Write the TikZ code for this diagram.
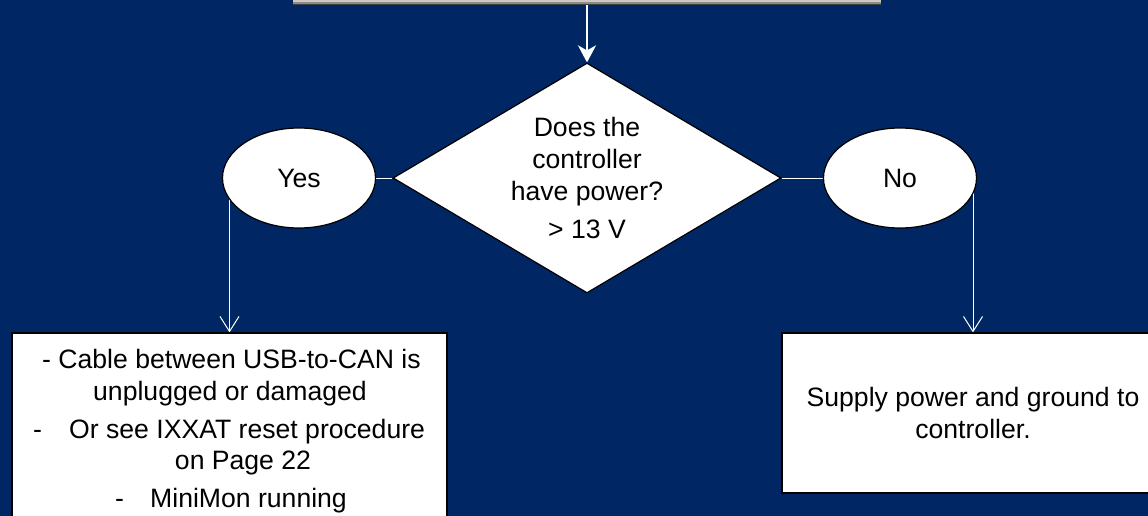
\documentclass[tikz,border=0pt]{standalone}
\usepackage{fontspec}
\setmainfont{Liberation Sans}
\usetikzlibrary{shapes.geometric,arrows.meta}

\definecolor{navy}{RGB}{0,38,100}
\definecolor{panelgray}{RGB}{206,202,194}

\pgfdeclarelayer{bg}
\pgfdeclarelayer{lines}
\pgfsetlayers{bg,lines,main}

\tikzset{
  txt/.style={font=\fontsize{26.6}{32}\selectfont, text=black, inner sep=0pt},
  outlined/.style={draw=black, line width=1.2pt, fill=white},
  answer/.style={outlined, ellipse, minimum width=153pt, minimum height=100pt, inner sep=0pt, txt},
  decision/.style={outlined, diamond, minimum width=388pt, minimum height=230pt, aspect=1.69, inner sep=0pt, align=center, txt},
  panel/.style={outlined, rectangle, inner sep=0pt},
  wline/.style={draw=white, line width=1pt},
  wflow/.style={wline, -{Straight Barb[length=15pt,width=19pt,line width=1pt]}},
  mainflow/.style={draw=white, line width=2.4pt, -{Stealth[length=17pt,width=18pt,inset=5pt]}},
}

\begin{document}
\begin{tikzpicture}[x=1pt,y=-1pt]
  \begin{pgfonlayer}{bg}
    \fill[navy] (0,0) rectangle (1148,516);
  \end{pgfonlayer}
  \useasboundingbox (0,0) rectangle (1148,516);

  % step box above (only its lower edge is in view)
  \node[fill=panelgray, rectangle, minimum width=588pt, minimum height=40pt,
        inner sep=0pt, anchor=south] (top) at (587,5) {};
  \draw[black!45, line width=1.5pt] ([yshift=2pt]top.south west) -- ([yshift=2pt]top.south east);
  \draw[black!75, line width=1pt] ([yshift=0.5pt]top.south west) -- ([yshift=0.5pt]top.south east);

  % decision
  \node[decision] (dia) at (587,178)
    {Does the\\controller\\have power?\\[6pt]{>} 13 V};

  % answers
  \node[answer] (yes) at (299,178) {Yes};
  \node[answer] (no)  at (900,178) {No};

  % result boxes
  \node[panel, minimum width=435pt, minimum height=220pt] (lbox) at (229.5,443) {};
  \node[panel, minimum width=382pt, minimum height=160pt, align=center, txt] (rbox) at (973,413)
    {Supply power and ground to\\controller.};

  % text of the left box
  \node[txt, anchor=base west] (l1a) at (42,368.5) {- Cable between USB-to-CAN is};
  \node[txt, anchor=base west] (l1b) at (93,400.5) {unplugged or damaged};
  \node[txt, anchor=base west] (d2)  at (33,438.5) {-};
  \node[txt, anchor=base west] (l2a) at (69,438.5) {Or see IXXAT reset procedure};
  \node[txt, anchor=base] (l2b) at (243,469.5) {on Page 22};
  \node[txt, anchor=base west] (d3)  at (115,507.5) {-};
  \node[txt, anchor=base west] (l3)  at (150,507.5) {MiniMon running};

  % connectors
  \begin{pgfonlayer}{lines}
    \draw[mainflow] (top.south) -- (dia.north);
    \draw[wline] (dia.west) -- (yes.east);
    \draw[wline] (dia.east) -- (no.west);
    \draw[wflow] (yes.center -| lbox.north) -- (lbox.north);
    \draw[wflow] (no.center -| rbox.north) -- (rbox.north);
  \end{pgfonlayer}
\end{tikzpicture}
\end{document}
